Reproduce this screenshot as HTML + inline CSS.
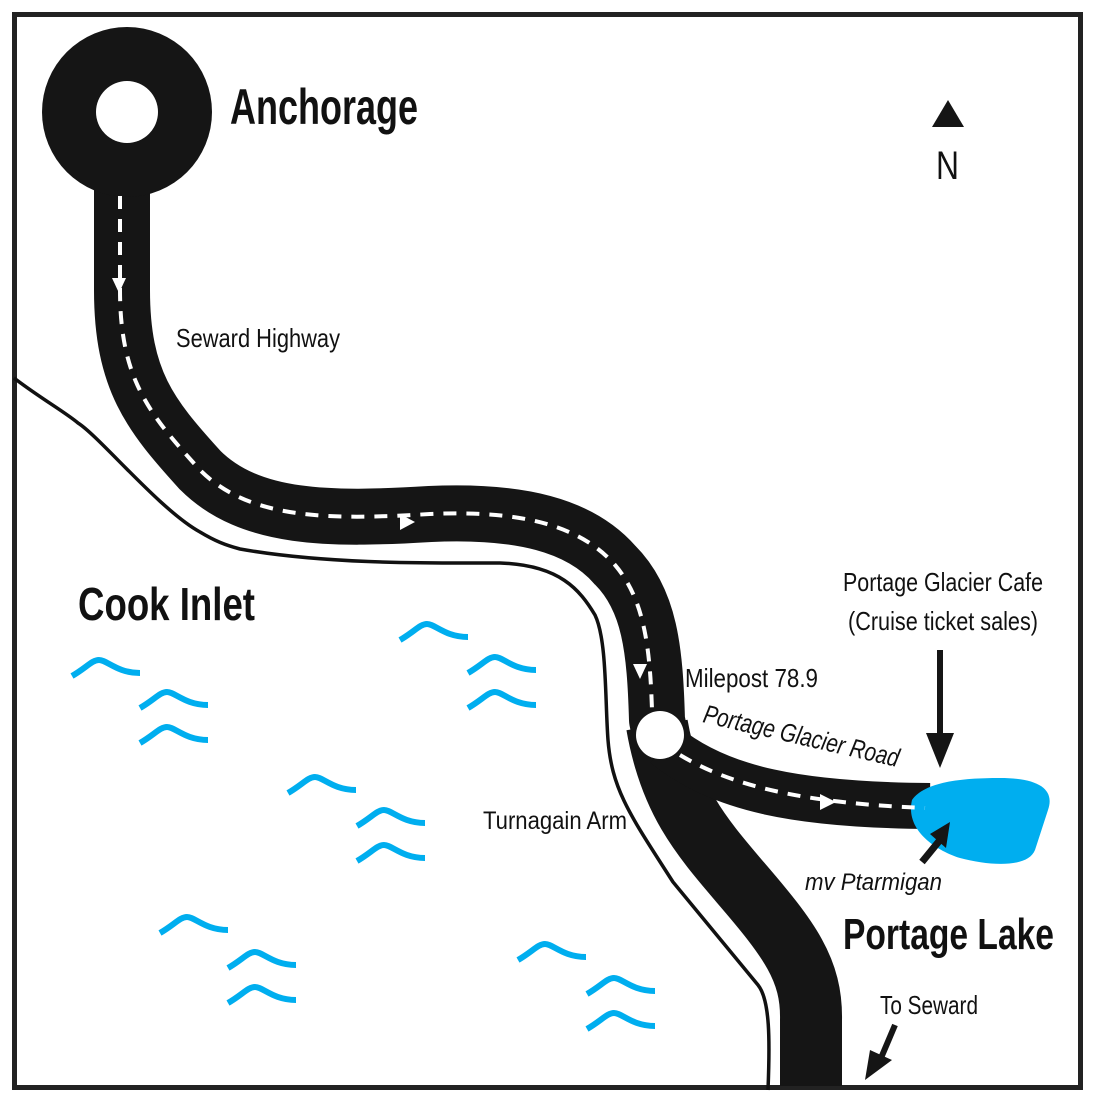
<!DOCTYPE html>
<html><head><meta charset="utf-8"><style>
html,body{margin:0;padding:0;background:#fff}
svg{display:block}
text{font-family:"Liberation Sans Narrow","Liberation Sans",sans-serif;fill:#111}
</style></head><body>
<svg width="1094" height="1105" viewBox="0 0 1094 1105" xmlns="http://www.w3.org/2000/svg">
<rect x="0" y="0" width="1094" height="1105" fill="#fff"/>
<rect x="14.5" y="14.5" width="1066" height="1073" fill="none" stroke="#222" stroke-width="5"/>

<!-- coastline -->
<path d="M14,378 C40,398 65,412 78,423 C100,437 160,510 200,532 C215,541 225,545 240,549 C330,565 440,563 500,563 C560,565 580,590 595,615 C607,640 605,700 608,740 C612,790 630,815 673,882 L758,985 C770,1000 770,1040 768,1090" fill="none" stroke="#111" stroke-width="3.5"/>

<!-- main road -->
<g fill="none" stroke="#151515" stroke-width="56" stroke-linejoin="round">
<path d="M122,180 L122,290 C122,380 150,415 200,470 C250,520 330,520 430,514 C520,510 580,525 615,565 C650,600 655,650 657,720 L660,735"/>
<path d="M657,725 C670,800 700,835 740,882 C790,940 812,970 811,1020 L811,1086" stroke-width="62"/>
<path d="M665,745 C720,790 800,805 930,806" stroke-width="46"/>
</g>
<!-- lake -->
<path d="M912,800 C925,782 960,778 1000,778 C1040,778 1055,790 1048,810 L1035,850 C1028,868 990,866 960,858 C935,850 905,830 912,800 Z" fill="#00aeef"/>

<!-- anchorage circle -->
<circle cx="127" cy="112" r="85" fill="#151515"/>
<circle cx="127" cy="112" r="31" fill="#fff"/>

<!-- dashed center lines -->
<g fill="none" stroke="#fff" stroke-width="4" stroke-dasharray="13 10">
<path d="M120,196 L120,290 C120,380 150,415 200,470 C250,520 330,520 430,514 C520,510 580,525 615,565 C645,600 650,650 652,710"/>
<path d="M680,755 C730,785 800,803 925,808"/>
</g>
<g fill="#fff">
<polygon points="112,278 126,278 119,293"/>
<polygon points="400,514 400,530 415,522"/>
<polygon points="633,664 647,664 640,679"/>
<polygon points="820,794 820,810 836,802"/>
</g>
<circle cx="660" cy="735" r="24" fill="#fff"/>

<!-- arrows -->
<g fill="#151515" stroke="#151515">
<line x1="940" y1="650" x2="940" y2="735" stroke-width="6"/>
<polygon points="926,733 954,733 940,768" stroke="none"/>
<line x1="922" y1="862" x2="940" y2="840" stroke-width="7"/>
<polygon points="950,822 930,834 946,848" stroke="none"/>
<line x1="895" y1="1025" x2="881" y2="1058" stroke-width="6"/>
<polygon points="865,1080 870,1050 892,1060" stroke="none"/>
<polygon points="932,127 964,127 948,100" stroke="none"/>
</g>

<!-- waves -->
<g fill="none" stroke="#00aeef" stroke-width="6">
<path d="M0,18 C14,10 20,2 27,2 C35,2 45,15 68,15" transform="translate(72,658)"/>
<path d="M0,18 C14,10 20,2 27,2 C35,2 45,15 68,15" transform="translate(140,690)"/>
<path d="M0,18 C14,10 20,2 27,2 C35,2 45,15 68,15" transform="translate(140,725)"/>
<path d="M0,18 C14,10 20,2 27,2 C35,2 45,15 68,15" transform="translate(400,622)"/>
<path d="M0,18 C14,10 20,2 27,2 C35,2 45,15 68,15" transform="translate(468,655)"/>
<path d="M0,18 C14,10 20,2 27,2 C35,2 45,15 68,15" transform="translate(468,690)"/>
<path d="M0,18 C14,10 20,2 27,2 C35,2 45,15 68,15" transform="translate(288,775)"/>
<path d="M0,18 C14,10 20,2 27,2 C35,2 45,15 68,15" transform="translate(357,808)"/>
<path d="M0,18 C14,10 20,2 27,2 C35,2 45,15 68,15" transform="translate(357,843)"/>
<path d="M0,18 C14,10 20,2 27,2 C35,2 45,15 68,15" transform="translate(160,915)"/>
<path d="M0,18 C14,10 20,2 27,2 C35,2 45,15 68,15" transform="translate(228,950)"/>
<path d="M0,18 C14,10 20,2 27,2 C35,2 45,15 68,15" transform="translate(228,985)"/>
<path d="M0,18 C14,10 20,2 27,2 C35,2 45,15 68,15" transform="translate(518,942)"/>
<path d="M0,18 C14,10 20,2 27,2 C35,2 45,15 68,15" transform="translate(587,976)"/>
<path d="M0,18 C14,10 20,2 27,2 C35,2 45,15 68,15" transform="translate(587,1011)"/>
</g>

<!-- labels -->
<text x="230" y="124" font-size="50" font-weight="bold" textLength="188" lengthAdjust="spacingAndGlyphs">Anchorage</text>
<text x="176" y="347" font-size="26" textLength="164" lengthAdjust="spacingAndGlyphs">Seward Highway</text>
<text x="78" y="620" font-size="46" font-weight="bold" textLength="177" lengthAdjust="spacingAndGlyphs">Cook Inlet</text>
<text x="685" y="687" font-size="26" textLength="133" lengthAdjust="spacingAndGlyphs">Milepost 78.9</text>
<text x="0" y="0" font-size="26" font-style="italic" textLength="200" lengthAdjust="spacingAndGlyphs" transform="translate(702,722) rotate(13)">Portage Glacier Road</text>
<text x="843" y="591" font-size="26" textLength="200" lengthAdjust="spacingAndGlyphs">Portage Glacier Cafe</text>
<text x="848" y="630" font-size="26" textLength="190" lengthAdjust="spacingAndGlyphs">(Cruise ticket sales)</text>
<text x="483" y="829" font-size="25" textLength="144" lengthAdjust="spacingAndGlyphs">Turnagain Arm</text>
<text x="805" y="890" font-size="24" font-style="italic" textLength="137" lengthAdjust="spacingAndGlyphs">mv Ptarmigan</text>
<text x="843" y="949" font-size="44" font-weight="bold" textLength="211" lengthAdjust="spacingAndGlyphs">Portage Lake</text>
<text x="880" y="1014" font-size="26" textLength="98" lengthAdjust="spacingAndGlyphs">To Seward</text>
<text x="936" y="179" font-size="40" textLength="23" lengthAdjust="spacingAndGlyphs">N</text>
</svg>
</body></html>
